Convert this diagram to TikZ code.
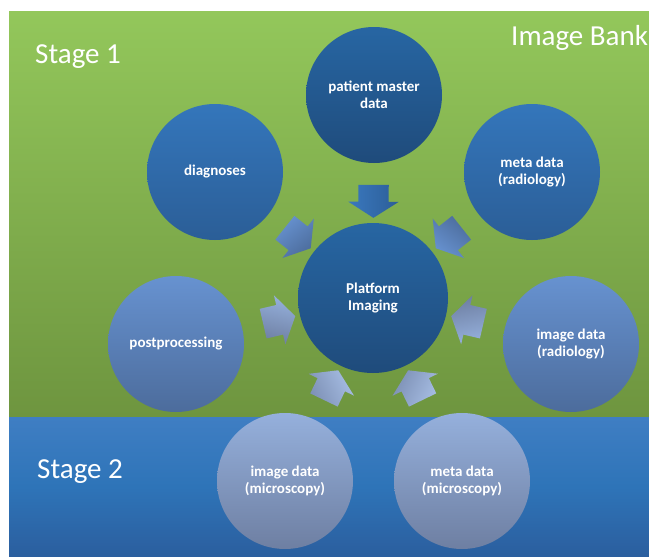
\documentclass[tikz,border=0pt]{standalone}
\usepackage{fontspec}
\setmainfont{Carlito}
\usepackage{xcolor}
\usetikzlibrary{calc}
\usetikzlibrary{shapes.arrows}
\definecolor{greentop}{HTML}{93C75B}
\definecolor{greenbot}{HTML}{6E953F}
\definecolor{bluetop}{HTML}{3F7EC3}
\definecolor{bluemid}{HTML}{2E74B8}
\definecolor{bluebot}{HTML}{2B5E9E}
\definecolor{darktop}{HTML}{2766A3}
\definecolor{darkbot}{HTML}{1F4B7B}
\definecolor{midtop}{HTML}{3476BB}
\definecolor{midbot}{HTML}{2B5E97}
\definecolor{lighttop}{HTML}{6792D0}
\definecolor{lightbot}{HTML}{4C6C9C}
\definecolor{paletop}{HTML}{95B0DC}
\definecolor{palebot}{HTML}{6E7FA2}
\definecolor{arrtop}{HTML}{3A78BE}
\definecolor{arrbot}{HTML}{2C5E98}
\definecolor{faintop}{HTML}{A6BDE3}
\definecolor{faintbot}{HTML}{7D90B5}

\begin{document}
\begin{tikzpicture}[x=1pt,y=-1pt,
    bubble/.style={circle,minimum size=136pt,inner sep=0pt,align=center,text=white,font=\bfseries\fontsize{15}{17}\selectfont},
    blockarrow/.style={single arrow,single arrow head extend=10pt,single arrow tip angle=115,inner xsep=0pt,inner ysep=15pt,minimum height=33pt},
    stagelabel/.style={anchor=base west,inner sep=0pt,text=white,font=\fontsize{29}{35}\selectfont}]
        \useasboundingbox (0,0) rectangle (649,557);
        \fill[white] (0,0) rectangle (649,557);
        \shade[top color=greentop,bottom color=greenbot] (9,11) rectangle (649,417);
        \shade[top color=bluetop,bottom color=bluebot,middle color=bluemid] (9,417) rectangle (649,557);
        \node[stagelabel] (stage1) at (35,63) {Stage 1};
        \node[stagelabel] (bank) at (511,45) {Image Bank};
        \node[stagelabel] (stage2) at (37,478) {Stage 2};
        \node[bubble,minimum size=150pt,top color=darktop,bottom color=darkbot] (plat) at (373,298) {Platform\\Imaging};
        \node[bubble,top color=darktop,bottom color=darkbot] (master) at (374,95) {patient master\\data};
        \node[bubble,top color=midtop,bottom color=midbot] (diag) at (215,172) {diagnoses};
        \node[bubble,top color=midtop,bottom color=midbot] (metarad) at (532,172) {meta data\\(radiology)};
        \node[bubble,top color=lighttop,bottom color=lightbot] (post) at (176,344) {postprocessing};
        \node[bubble,top color=lighttop,bottom color=lightbot] (imgrad) at (571,344) {image data\\(radiology)};
        \node[bubble,top color=paletop,bottom color=palebot] (imgmic) at (285,481) {image data\\(microscopy)};
        \node[bubble,top color=paletop,bottom color=palebot] (metamic) at (462,481) {meta data\\(microscopy)};
        \foreach \src/\ctop/\cbot in {master/arrtop/arrbot,diag/lighttop/lightbot,metarad/lighttop/lightbot,post/paletop/palebot,imgrad/paletop/palebot,imgmic/faintop/faintbot,metamic/faintop/faintbot}{
            \path let \p1=($(plat)-(\src)$), \n1={atan2(\y1,\x1)} in
                node[blockarrow,top color=\ctop,bottom color=\cbot,shading angle=-\n1,rotate=\n1] (arr-\src) at ($(\src)!0.5!(plat)$) {};
        }
    \end{tikzpicture}
\end{document}
